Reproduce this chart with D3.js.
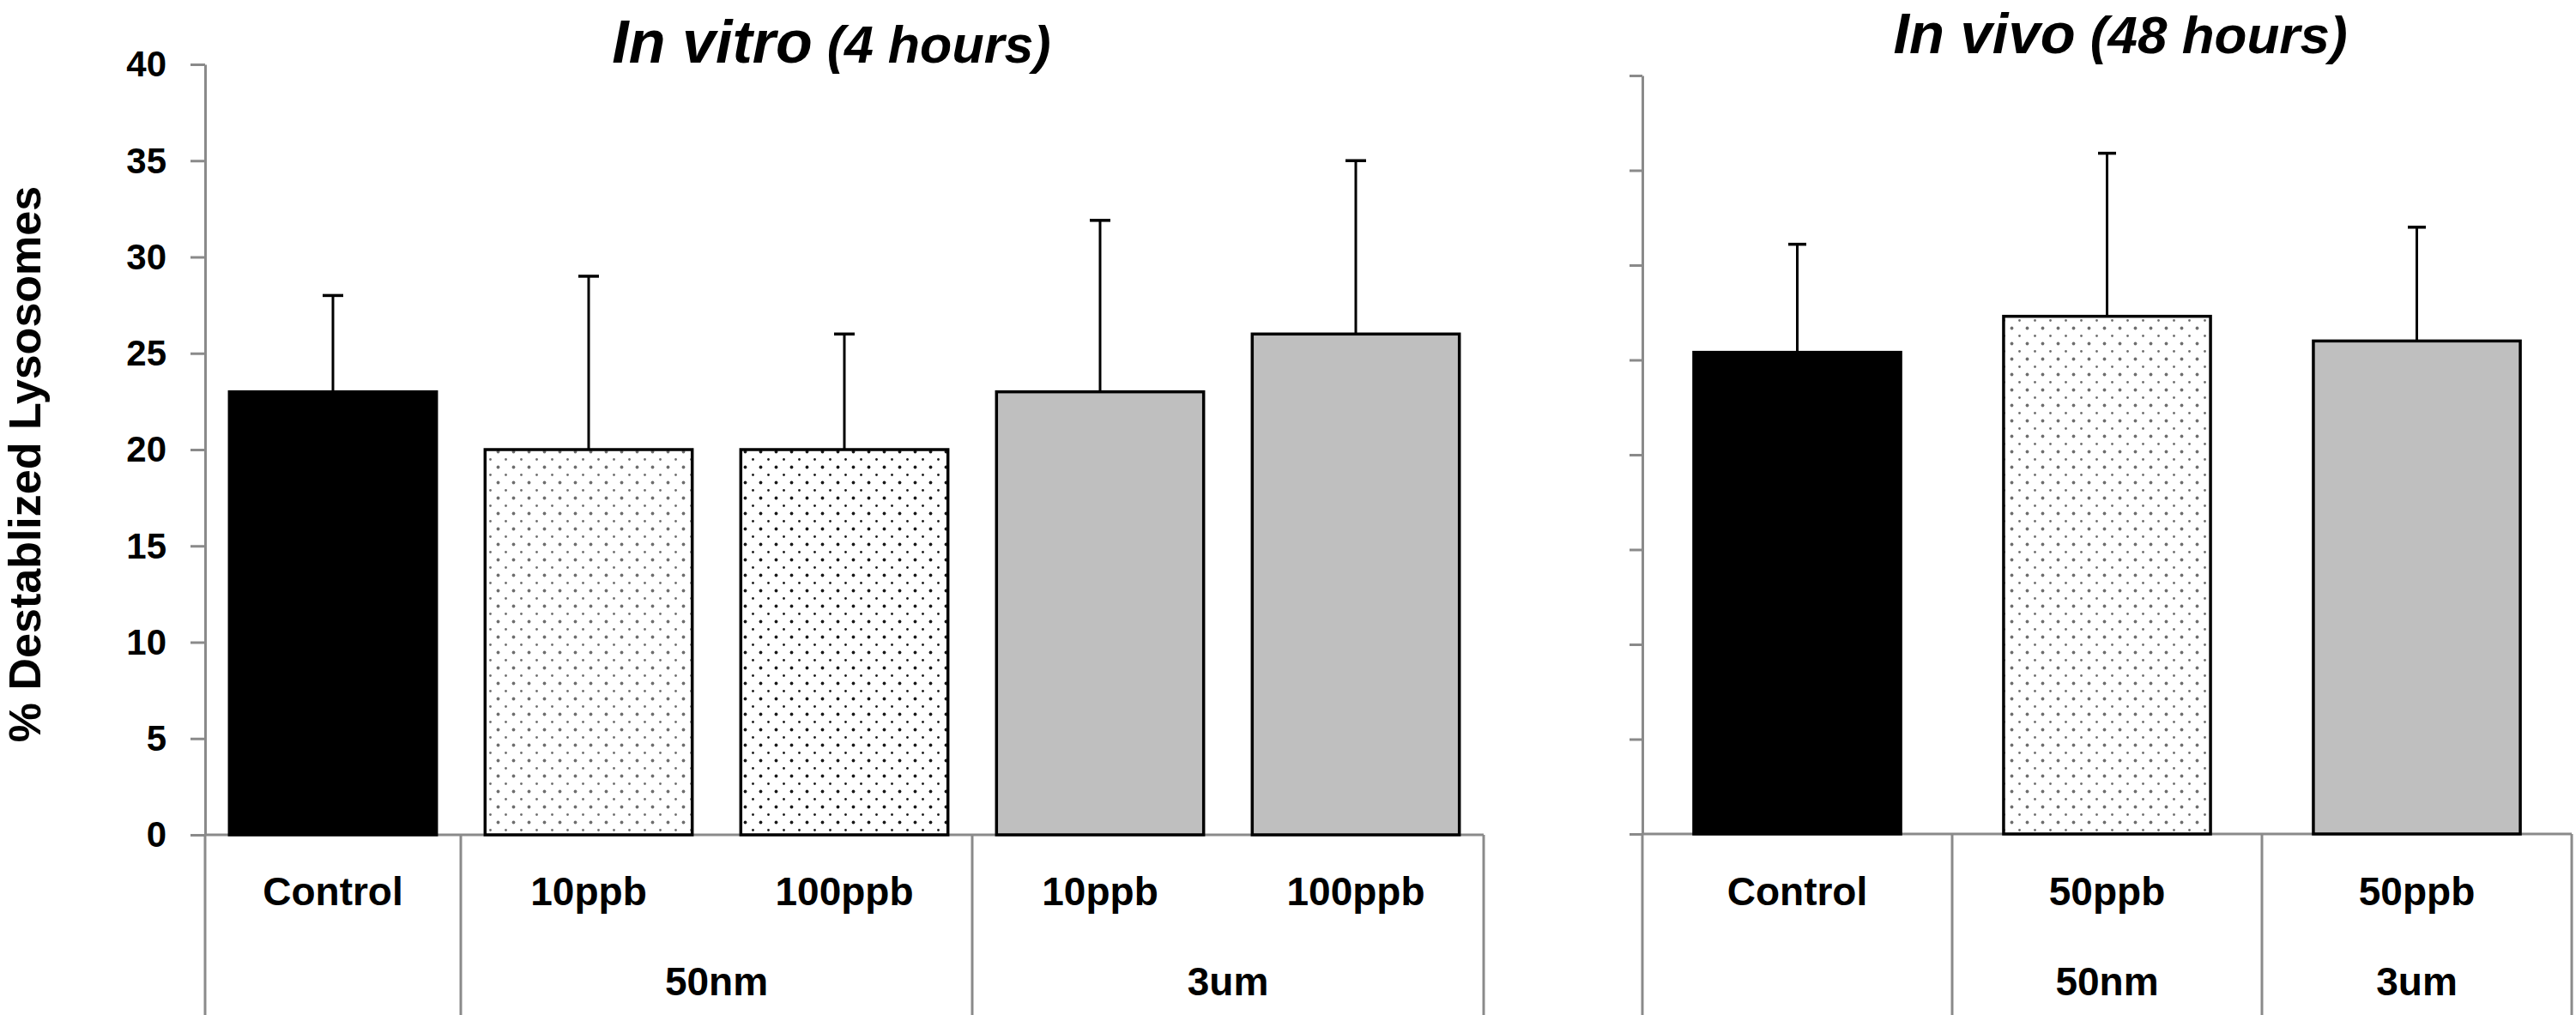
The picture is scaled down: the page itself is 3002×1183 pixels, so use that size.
<!DOCTYPE html>
<html>
<head>
<meta charset="utf-8">
<script src="https://cdn.jsdelivr.net/npm/d3@7"></script>
<style>
  body { margin: 0; background: #fff; }
  svg text { font-family: "Liberation Sans", Arial, sans-serif; font-weight: bold; fill: #000; }
</style>
</head>
<body>
<svg></svg>
<script>
// in vitro panel
const vitroLabels = ['Control', '10ppb', '100ppb', '10ppb', '100ppb'];
const vitroGroups = ['', '50nm', '50nm', '3um', '3um'];
const vitroMeans = [23, 20, 20, 23, 26];
const vitroSD = [5, 9, 6, 8.9, 9];

// in vivo panel
const vivoLabels = ['Control', '50ppb', '50ppb'];
const vivoGroups = ['', '50nm', '3um'];
const vivoMeans = [25.4, 27.3, 26.0];
const vivoSD = [5.7, 8.6, 6.0];

const yTicks = [0, 5, 10, 15, 20, 25, 30, 35, 40];

const s = {
  width: 3002,
  height: 1183,
  grey: '#8a8a8a',
};

const svg = d3.select('svg')
    .attr('width', s.width)
    .attr('height', s.height);

const defs = svg.append('defs');

function dotPattern(id, color) {
  const p = defs.append('pattern')
      .attr('id', id)
      .attr('patternUnits', 'userSpaceOnUse')
      .attr('width', 18)
      .attr('height', 18);
  p.append('rect').attr('width', 18).attr('height', 18).attr('fill', '#fff');
  p.append('circle').attr('cx', 4.5).attr('cy', 4.5).attr('r', 1.9).attr('fill', color);
  p.append('circle').attr('cx', 13.5).attr('cy', 13.5).attr('r', 1.4).attr('fill', color);
}
dotPattern('dots-light', '#6e6e6e');
dotPattern('dots-dark', '#1a1a1a');

function fillFor(group, label) {
  if (group === '') return '#000';
  if (group === '3um') return '#bfbfbf';
  return label === '100ppb' ? 'url(#dots-dark)' : 'url(#dots-light)';
}

function panel(cfg) {
  const n = cfg.labels.length;
  const x = d3.scaleBand()
      .domain(d3.range(n))
      .range([cfg.x0, cfg.x1])
      .paddingInner(cfg.pad)
      .paddingOuter(cfg.pad / 2);
  const y = d3.scaleLinear().domain([0, 40]).range([cfg.y0, cfg.yTop]);

  const g = svg.append('g');

  // y axis
  const axis = d3.axisLeft(y)
      .tickValues(yTicks)
      .tickSize(cfg.tickLen)
      .tickSizeOuter(0)
      .tickPadding(cfg.tickPad);
  if (!cfg.tickLabels) axis.tickFormat('');
  const ag = g.append('g')
      .attr('transform', `translate(${cfg.x0},0)`)
      .call(axis);
  ag.selectAll('path, line').attr('stroke', s.grey).attr('stroke-width', 3);
  ag.selectAll('text')
      .attr('font-size', 42)
      .attr('dy', '0.33em')
      .style('font-family', '"Liberation Sans", Arial, sans-serif')
      .style('font-weight', 'bold');

  // baseline across the panel
  g.append('line')
      .attr('x1', cfg.x0).attr('x2', cfg.x1)
      .attr('y1', y(0)).attr('y2', y(0))
      .attr('stroke', s.grey).attr('stroke-width', 3);

  // category box separators
  const step = x.step();
  const bounds = [0];
  for (let i = 1; i < n; i++) {
    if (cfg.groups[i] !== cfg.groups[i - 1] || cfg.groups[i] === '') bounds.push(i);
  }
  bounds.push(n);
  g.selectAll('line.sep')
    .data(bounds)
    .enter().append('line')
      .attr('class', 'sep')
      .attr('x1', d => cfg.x0 + d * step)
      .attr('x2', d => cfg.x0 + d * step)
      .attr('y1', y(0))
      .attr('y2', s.height)
      .attr('stroke', s.grey)
      .attr('stroke-width', 3);

  const data = cfg.labels.map((l, i) => ({
    i, label: l, group: cfg.groups[i], mean: cfg.means[i], sd: cfg.sd[i],
  }));

  // bars
  g.selectAll('rect.bar')
    .data(data)
    .enter().append('rect')
      .attr('class', 'bar')
      .attr('x', d => x(d.i))
      .attr('width', x.bandwidth())
      .attr('y', d => y(d.mean))
      .attr('height', d => y(0) - y(d.mean))
      .attr('fill', d => fillFor(d.group, d.label))
      .attr('stroke', '#000')
      .attr('stroke-width', 3.5);

  // error bars (upper only)
  const cx = d => x(d.i) + x.bandwidth() / 2;
  g.selectAll('line.stem')
    .data(data)
    .enter().append('line')
      .attr('x1', cx).attr('x2', cx)
      .attr('y1', d => y(d.mean))
      .attr('y2', d => y(d.mean + d.sd))
      .attr('stroke', '#000')
      .attr('stroke-width', 3);
  g.selectAll('line.cap')
    .data(data)
    .enter().append('line')
      .attr('x1', d => cx(d) - cfg.cap / 2)
      .attr('x2', d => cx(d) + cfg.cap / 2)
      .attr('y1', d => y(d.mean + d.sd))
      .attr('y2', d => y(d.mean + d.sd))
      .attr('stroke', '#000')
      .attr('stroke-width', 3.5);

  // first row labels
  g.selectAll('text.cat')
    .data(data)
    .enter().append('text')
      .attr('x', cx)
      .attr('y', 1055)
      .attr('text-anchor', 'middle')
      .attr('font-size', 46)
      .text(d => d.label);

  // second row (group) labels
  const groups = d3.groups(data.filter(d => d.group !== ''), d => d.group);
  g.selectAll('text.grp')
    .data(groups)
    .enter().append('text')
      .attr('x', d => {
        const first = d[1][0].i, last = d[1][d[1].length - 1].i;
        return cfg.x0 + (first + last + 1) / 2 * step;
      })
      .attr('y', 1160)
      .attr('text-anchor', 'middle')
      .attr('font-size', 46)
      .text(d => d[0]);

  // title
  const t = g.append('text')
      .attr('x', cfg.titleX)
      .attr('y', cfg.titleY)
      .attr('text-anchor', 'middle')
      .attr('font-size', cfg.titleSmall)
      .attr('font-style', 'italic');
  t.append('tspan').attr('font-size', cfg.titleBig).text(cfg.title[0]);
  t.append('tspan').attr('font-size', cfg.titleSmall).text(' ' + cfg.title[1]);
}

panel({
  labels: vitroLabels, groups: vitroGroups, means: vitroMeans, sd: vitroSD,
  x0: 239, x1: 1729, y0: 973, yTop: 75, pad: 0.19,
  tickLen: 17, tickPad: 28, tickLabels: true, cap: 24,
  title: ['In vitro', '(4 hours)'], titleX: 969, titleY: 73, titleBig: 70, titleSmall: 61,
});

panel({
  labels: vivoLabels, groups: vivoGroups, means: vivoMeans, sd: vivoSD,
  x0: 1914, x1: 2997, y0: 972, yTop: 88, pad: 0.332,
  tickLen: 15, tickPad: 10, tickLabels: false, cap: 21,
  title: ['In vivo', '(48 hours)'], titleX: 2471, titleY: 62, titleBig: 67, titleSmall: 62,
});

// y axis title
svg.append('text')
    .attr('transform', 'translate(47,541) rotate(-90)')
    .attr('text-anchor', 'middle')
    .attr('font-size', 52)
    .text('% Destablized Lysosomes');
</script>
</body>
</html>
